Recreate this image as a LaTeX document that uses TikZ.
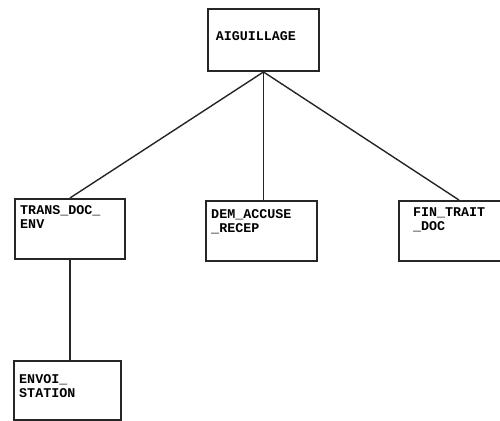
\documentclass[tikz,border=0pt]{standalone}
\usepackage{fontspec}
\newfontfamily\boxfont{Liberation Mono}
\usetikzlibrary{positioning}

\begin{document}
\begin{tikzpicture}[
  x=0.02cm,y=-0.02cm,
  box/.style={rectangle,draw=black!85,line width=1.1pt,anchor=north west,align=left,font=\boxfont\bfseries\fontsize{7.6}{8}\selectfont,inner xsep=3pt,inner ysep=0pt,text height=9pt,text depth=25pt},
  lnk/.style={draw=black!85,line width=0.8pt}
]
  \useasboundingbox (0,0) rectangle (500,420);
  \clip (0,0) rectangle (500,420);
  \node[box,text width=54.2pt,inner xsep=4.5pt,text height=18.2pt,text depth=17.1pt](aig) at (207,8) {AIGUILLAGE};
  \node[box,text width=56.6pt](trans) at (14,198) {TRANS\_DOC\_\\ENV};
  \node[box,text width=57.2pt,text height=10pt,text depth=24pt](dem) at (205,200) {DEM\_ACCUSE\\\_RECEP};
  \node[box,text width=52.3pt,inner xsep=8pt](fin) at (398,200) {FIN\_TRAIT\\\_DOC};
  \node[box,text width=54.9pt,text height=13pt,text depth=20.6pt](envoi) at (13,360) {ENVOI\_\\STATION};

  \foreach \x/\y in {aig/trans,aig/fin}{\draw[lnk](\x.south)--(\y.north);}
  \foreach \x/\y in {aig/dem,trans/envoi}{\draw[lnk](\x.south)--(\x.south |- \y.north);}
\end{tikzpicture}
\end{document}
